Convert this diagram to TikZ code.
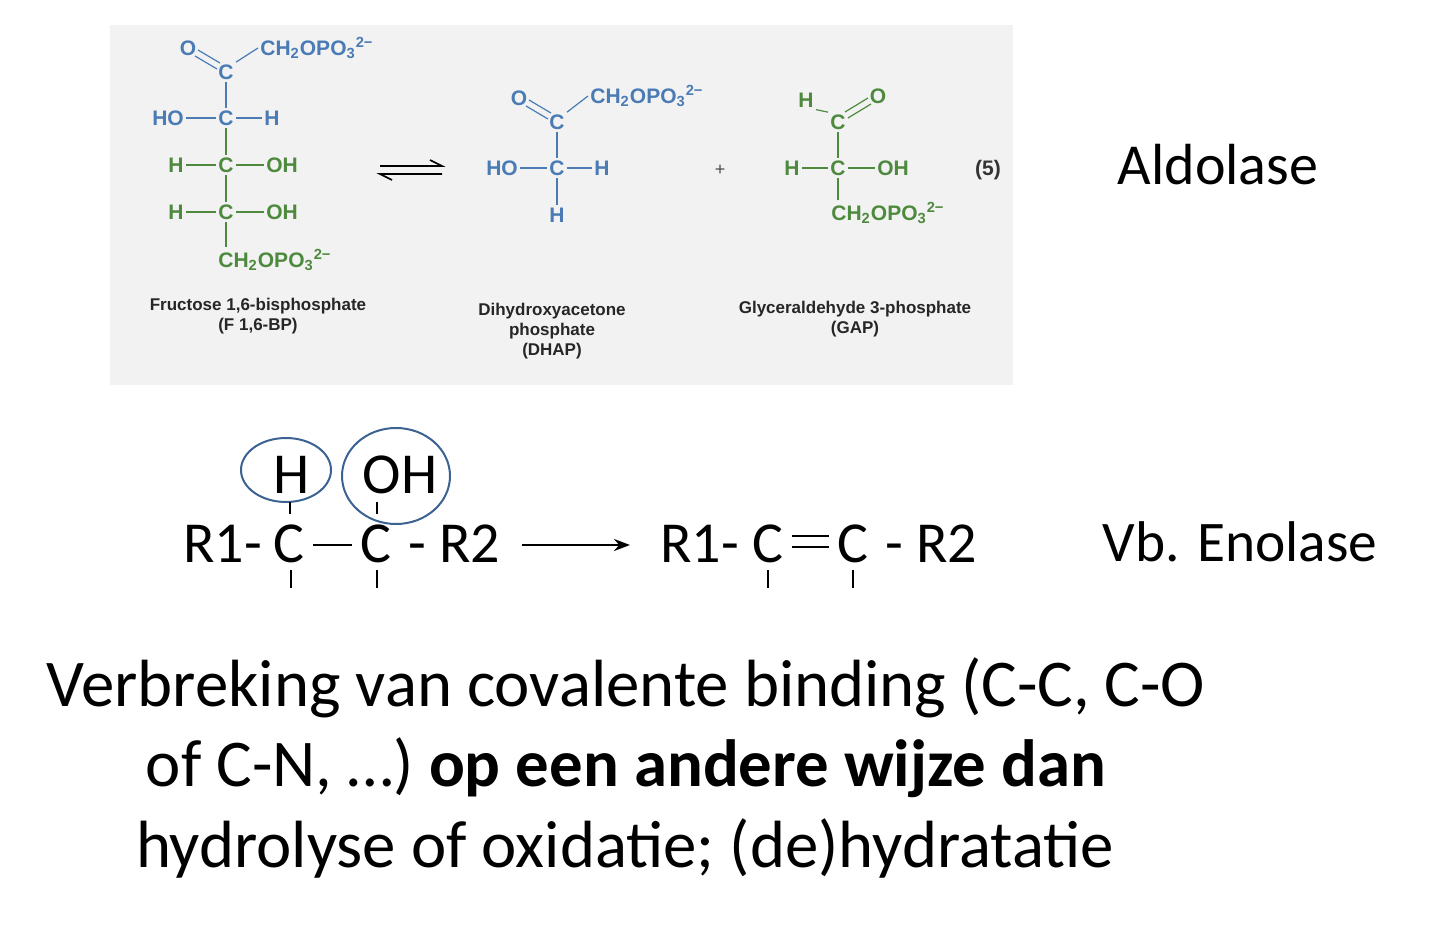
\documentclass[tikz,border=0pt]{standalone}
\usepackage{fontspec}
\setmainfont{Carlito}
\newfontfamily\chemf{Liberation Sans}
\usetikzlibrary{arrows.meta}
\definecolor{cb}{HTML}{4A7BB5}
\definecolor{cg}{HTML}{4E8A3E}
\tikzset{
 ch/.style={font=\chemf\bfseries\fontsize{10.5}{11}\selectfont, inner sep=1pt},
 chb/.style={ch, text=cb}, chg/.style={ch, text=cg},
 bb/.style={draw=cb, line width=0.6pt}, bg/.style={draw=cg, line width=0.6pt},
 lab/.style={font=\chemf\bfseries\fontsize{8.5}{10}\selectfont, align=center, text=black!85},
 big/.style={font=\fontsize{33.4}{38}\selectfont, inner sep=0pt},
 mid/.style={font=\fontsize{29}{34}\selectfont, inner sep=0pt},
 tick/.style={line width=1.3pt},
 eqa/.style={line width=0.8pt}
}
\newcommand{\phos}{CH\textsubscript{2}OPO\textsubscript{3}\textsuperscript{2−}}
\begin{document}
\begin{tikzpicture}[x=0.5pt,y=-0.5pt]
\useasboundingbox (0,0) rectangle (1440,941);
\fill[black!5] (110,25) rectangle (1013,385);
% Fructose
\node[chb] (fo) at (188,48) {O};
\node[chb] (fc1) at (226,72) {C};
\node[chb,anchor=west] (fp1) at (258,48) {\phos};
\node[chb] (fho) at (168,118) {HO};
\node[chb] (fc2) at (226,118) {C};
\node[chb] (fh2) at (272,118) {H};
\node[chg] (fh3) at (176,165) {H};
\node[chg] (fc3) at (226,165) {C};
\node[chg] (foh3) at (282,165) {OH};
\node[chg] (fh4) at (176,212) {H};
\node[chg] (fc4) at (226,212) {C};
\node[chg] (foh4) at (282,212) {OH};
\node[chg,anchor=west] (fp6) at (216,260) {\phos};
\draw[bb] (198,50) -- (220,63);
\draw[bb] (195,56) -- (217,69);
\draw[bb] (fc1.north east) -- (fp1.west);
\draw[bb] (fc1) -- (fc2); \draw[bb] (fho) -- (fc2) -- (fh2);
\draw[bg] (fc2) -- (fc3) -- (fc4); \draw[bg] (fh3) -- (fc3) -- (foh3);
\draw[bg] (fh4) -- (fc4) -- (foh4);
\draw[bg] (fc4) -- (fc4 |- fp6.north);
\node[lab] (fl) at (258,316) {Fructose 1,6-bisphosphate\\(F 1,6-BP)};
% equilibrium
\coordinate (e1) at (380,166); \coordinate (e2) at (442,166);
\coordinate (e3) at (380,174); \coordinate (e4) at (442,174);
\draw[eqa] (e1) -- (e2) -- ++(-12,-6);
\draw[eqa] (e4) -- (e3) -- ++(12,6);
% DHAP
\node[chb] (do) at (519,98) {O};
\node[chb] (dc1) at (557,122) {C};
\node[chb,anchor=west] (dp) at (588,96) {\phos};
\node[chb] (dho) at (502,168) {HO};
\node[chb] (dc2) at (557,168) {C};
\node[chb] (dh) at (602,168) {H};
\node[chb] (dh2) at (557,215) {H};
\draw[bb] (529,100) -- (551,113);
\draw[bb] (526,106) -- (548,119);
\draw[bb] (dc1.north east) -- (dp.west);
\draw[bb] (dc1) -- (dc2) -- (dh2); \draw[bb] (dho) -- (dc2) -- (dh);
\node[lab] (dl) at (552,331) {Dihydroxyacetone\\phosphate\\(DHAP)};
\node[font=\chemf\fontsize{9}{10}\selectfont, text=black!70] (plus) at (720,170) {+};
% GAP
\node[chg] (gh1) at (806,100) {H};
\node[chg] (gc1) at (838,122) {C};
\node[chg] (go) at (878,96) {O};
\node[chg] (gh2) at (792,168) {H};
\node[chg] (gc2) at (838,168) {C};
\node[chg] (goh) at (893,168) {OH};
\node[chg,anchor=west] (gp) at (829,213) {\phos};
\draw[bg] (gh1.south east) -- (gc1.north west);
\draw[bg] (868,98) -- (845,112);
\draw[bg] (871,104) -- (848,118);
\draw[bg] (gc1) -- (gc2) -- (gc2 |- gp.north); \draw[bg] (gh2) -- (gc2) -- (goh);
\node[lab] (gl) at (855,319) {Glyceraldehyde 3-phosphate\\(GAP)};
\node[ch, text=black!80] (n5) at (988,170) {(5)};
\node[font=\fontsize{29}{34}\selectfont] (ald) at (1218,165) {Aldolase};
% enolase
\node[mid] (ha) at (292,475) {H};
\node[mid] (oha) at (400,475) {OH};
\draw[cb!80!black, line width=1pt] (286,470) ellipse [x radius=45, y radius=32];
\draw[cb!80!black, line width=1pt] (396,476) ellipse [x radius=54, y radius=48];
\node[mid, anchor=base west] (r1a) at (183,562) {R1-};
\node[mid, anchor=base] (ca) at (289,562) {C};
\node[mid, anchor=base] (cb2) at (376,562) {C};
\draw[line width=1.3pt] (ca.east |- 0,545) ++(8,0) -- ([xshift=-4pt]cb2.west |- 0,545);
\node[mid, anchor=base west] (r2a) at (408,562) {- R2};
\draw[tick] (290,502) -- (290,514);
\draw[tick] (377,502) -- (377,514);
\draw[tick] (291,570) -- (291,588);
\draw[tick] (377,570) -- (377,588);
\coordinate (aS) at (522,545); \coordinate (aE) at (630,545);
\draw[line width=1.3pt, -{Stealth[length=8pt]}] (aS) -- (aE);
\node[mid, anchor=base west] (r1b) at (660,562) {R1-};
\node[mid, anchor=base] (cc) at (768,562) {C};
\node[mid, anchor=base] (cd) at (853,562) {C};
\draw[line width=1.3pt] (cc.east |- 0,536) ++(8,0) -- ([xshift=-4pt]cd.west |- 0,536);
\draw[line width=1.3pt] (cc.east |- 0,547) ++(8,0) -- ([xshift=-4pt]cd.west |- 0,547);
\node[mid, anchor=base west] (r2b) at (885,562) {- R2};
\draw[tick] (768,570) -- (768,588);
\draw[tick] (853,570) -- (853,588);
\node[font=\fontsize{28.7}{32}\selectfont] (vb) at (1240,542) {Vb. Enolase};
% bottom text
\node[big] (l1) at (626,688) {Verbreking van covalente binding (C-C, C-O};
\node[big] (l2) at (626,768) {of C-N, …) \textbf{op een andere wijze dan}};
\node[big] (l3) at (625,848) {hydrolyse of oxidatie; (de)hydratatie};
\end{tikzpicture}
\end{document}
